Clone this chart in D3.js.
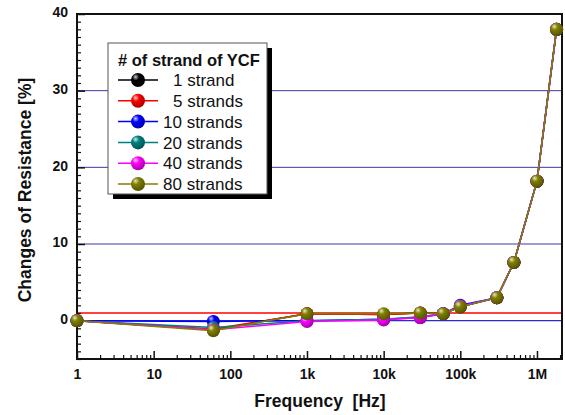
<!DOCTYPE html>
<meta charset="utf-8">
<style>
	body { margin: 0; background: #fff; }
	svg { font-family: "Liberation Sans", Arial, sans-serif; }
	.tick-label { font-size: 14px; font-weight: bold; fill: #111; }
	.axis-title { font-size: 17.5px; font-weight: bold; fill: #111; }
	.series-line { fill: none; stroke-width: 1.5px; }
</style>
<svg id="chart" width="565" height="415"></svg>
<script src="https://cdn.jsdelivr.net/npm/d3@7"></script>
<script>
	// frequencies [Hz]
	var freqs = [1, 60, 1000, 10000, 30000, 60000, 100000, 300000, 500000, 1000000, 1800000];

	var seriesNames = ["1 strand", "5 strands", "10 strands", "20 strands", "40 strands", "80 strands"];
	var seriesColors = ["#000000", "#ff0000", "#0000ff", "#008080", "#ff00ff", "#808000"];

	// changes of resistance [%]
	var strand1  = [0, -1.2, 0.9, 0.8, 1.0, 0.9, 1.8, 3.0, 7.6, 18.2, 38.0];
	var strand5  = [0, -1.1, 0.9, 0.8, 1.0, 0.9, 1.8, 3.0, 7.6, 18.2, 38.0];
	var strand10 = [0, -0.1, 0.0, 0.2, 0.4, 0.9, 2.0, 3.0, 7.6, 18.2, 38.0];
	var strand20 = [0, -0.9, 0.0, 0.2, 0.5, 0.9, 1.8, 3.0, 7.6, 18.2, 38.0];
	var strand40 = [0, -1.2, -0.1, 0.1, 0.4, 0.9, 1.9, 3.0, 7.6, 18.2, 38.0];
	var strand80 = [0, -1.3, 0.9, 0.9, 1.0, 0.9, 1.8, 3.0, 7.6, 18.2, 38.0];

	var xTickValues = [1, 10, 100, 1000, 10000, 100000, 1000000];
	var xTickLabels = ["1", "10", "100", "1k", "10k", "100k", "1M"];
	var yTickValues = [0, 10, 20, 30, 40];
	var gridValues = [10, 20, 30];
	var zeroLine = 0, refLine = 1;

	var legendTitle = "# of strand of YCF";

	var allSeries = [strand1, strand5, strand10, strand20, strand40, strand80].map(function(vals, i) {
		return {id: seriesNames[i], color: seriesColors[i], values: vals.map(function(v, j) { return {f: freqs[j], v: v}; })};
	});

	var svg = d3.select("#chart"),
		plotL = 77, plotR = 562, plotT = 14, plotB = 359;

	var x = d3.scaleLog().domain([1, 2.12e6]).range([plotL, plotR]);
	var y = d3.scaleLinear().domain([-5, 40]).range([plotB, plotT]);

	// sphere gradients
	var defs = svg.append("defs");
	allSeries.forEach(function(s, i) {
		var c = d3.color(s.color);
		var g = defs.append("radialGradient").attr("id", "ball" + i)
			.attr("cx", "38%").attr("cy", "32%").attr("r", "70%").attr("fx", "32%").attr("fy", "28%");
		g.append("stop").attr("offset", "0%").attr("stop-color", d3.interpolateRgb(c, "#fff")(0.8));
		g.append("stop").attr("offset", "35%").attr("stop-color", c.formatHex());
		g.append("stop").attr("offset", "100%").attr("stop-color", c.darker(1.2).formatHex());
	});

	// grid + reference lines
	svg.selectAll(".grid").data(gridValues).enter().append("line")
		.attr("x1", plotL).attr("x2", plotR)
		.attr("y1", function(d) { return y(d); }).attr("y2", function(d) { return y(d); })
		.attr("stroke", "#3a3aa6").attr("stroke-width", 1);
	svg.append("line").attr("x1", plotL).attr("x2", plotR).attr("y1", y(zeroLine)).attr("y2", y(zeroLine))
		.attr("stroke", "#2a2ad0").attr("stroke-width", 1.2);
	svg.append("line").attr("x1", plotL).attr("x2", plotR).attr("y1", y(refLine)).attr("y2", y(refLine))
		.attr("stroke", "#ff0000").attr("stroke-width", 1.3);

	// axes with inward ticks
	var xMinor = [];
	for (var e = 0; e <= 6; e++) for (var m = 2; m <= 9; m++) { if (m * Math.pow(10, e) < 2.12e6) xMinor.push(m * Math.pow(10, e)); }
	var yMinor = d3.range(-5, 41).filter(function(d) { return d % 10 !== 0; });

	svg.append("g").attr("transform", "translate(0," + plotB + ")")
		.call(d3.axisBottom(x).tickValues(xMinor).tickSize(-4).tickFormat(""))
		.call(function(g) { g.select(".domain").remove(); g.selectAll("line").attr("stroke", "#111").attr("stroke-width", 1.2); });
	svg.append("g").attr("transform", "translate(0," + plotB + ")")
		.call(d3.axisBottom(x).tickValues(xTickValues).tickSize(-8).tickPadding(10).tickFormat(function(d, i) { return xTickLabels[i]; }))
		.call(function(g) {
			g.select(".domain").remove();
			g.selectAll("line").attr("stroke", "#111").attr("stroke-width", 1.5);
			g.selectAll("text").attr("class", "tick-label").attr("font-family", null).attr("font-size", null);
		});

	svg.append("g").attr("transform", "translate(" + plotL + ",0)")
		.call(d3.axisLeft(y).tickValues(yMinor).tickSize(-4).tickFormat(""))
		.call(function(g) { g.select(".domain").remove(); g.selectAll("line").attr("stroke", "#111").attr("stroke-width", 1.2); });
	svg.append("g").attr("transform", "translate(" + plotL + ",0)")
		.call(d3.axisLeft(y).tickValues(yTickValues).tickSize(-8).tickPadding(9))
		.call(function(g) {
			g.select(".domain").remove();
			g.selectAll("line").attr("stroke", "#111").attr("stroke-width", 1.5);
			g.selectAll("text").attr("class", "tick-label").attr("font-family", null).attr("font-size", null).attr("dy", "0.2em");
		});

	// frame
	svg.append("rect").attr("x", plotL).attr("y", plotT).attr("width", plotR - plotL).attr("height", plotB - plotT)
		.attr("fill", "none").attr("stroke", "#111").attr("stroke-width", 2);

	// series
	var line = d3.line().x(function(d) { return x(d.f); }).y(function(d) { return y(d.v); });
	var series = svg.selectAll(".series").data(allSeries).enter().append("g").attr("class", "series");
	series.append("path").attr("class", "series-line")
		.attr("d", function(d) { return line(d.values); })
		.attr("stroke", function(d) { return d.color; });
	series.each(function(s, i) {
		d3.select(this).selectAll("circle").data(s.values).enter().append("circle")
			.attr("cx", function(d) { return x(d.f); })
			.attr("cy", function(d) { return y(d.v); })
			.attr("r", 6.5)
			.attr("fill", "url(#ball" + i + ")");
	});

	// axis titles
	svg.append("text").attr("class", "axis-title")
		.attr("x", 320).attr("y", 407).attr("text-anchor", "middle")
		.attr("xml:space", "preserve")
		.text("Frequency  [Hz]");
	svg.append("text").attr("class", "axis-title")
		.attr("transform", "translate(31,190) rotate(-90)").attr("text-anchor", "middle")
		.text("Changes of Resistance [%]");

	// legend
	var lg = svg.append("g");
	lg.append("rect").attr("x", 113).attr("y", 48).attr("width", 159).attr("height", 151).attr("fill", "#000");
	lg.append("rect").attr("x", 108).attr("y", 43).attr("width", 159).attr("height", 151)
		.attr("fill", "#fff").attr("stroke", "#555").attr("stroke-width", 1);
	lg.append("text").attr("x", 118).attr("y", 66)
		.style("font-size", "16.5px").style("font-weight", "bold").attr("fill", "#111")
		.text(legendTitle);
	var items = lg.selectAll(".item").data(allSeries).enter().append("g")
		.attr("transform", function(d, i) { return "translate(0," + (80 + i * 20.8) + ")"; });
	items.append("line").attr("x1", 118).attr("x2", 158).attr("y1", 0).attr("y2", 0)
		.attr("stroke", function(d) { return d.color; }).attr("stroke-width", 1.5);
	items.append("circle").attr("cx", 138).attr("cy", 0).attr("r", 7)
		.attr("fill", function(d, i) { return "url(#ball" + i + ")"; });
	items.append("text")
		.attr("x", function(d) { return d.id.indexOf(" ") === 1 ? 173 : 163; })
		.attr("dy", "0.36em")
		.style("font-size", "17px").attr("fill", "#111")
		.text(function(d) { return d.id; });
</script>
